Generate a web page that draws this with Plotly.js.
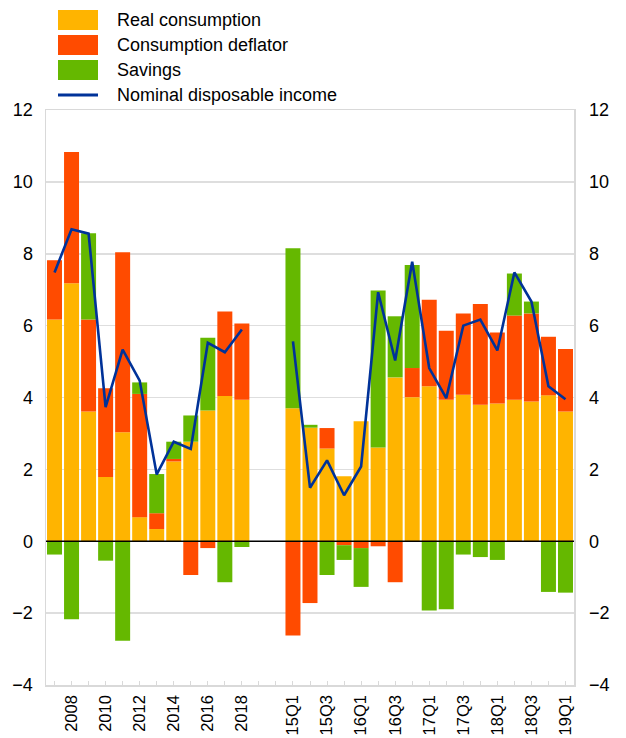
<!DOCTYPE html>
<html>
<head>
<meta charset="utf-8">
<script src="https://cdn.plot.ly/plotly-3.0.1.min.js"></script>
<style>html,body{margin:0;padding:0;background:#fff;}#chart{width:626px;height:738px;}</style>
</head>
<body>
<div id="chart"></div>
<script>
// ---- data ----
var annualLabels = ['2007','2008','2009','2010','2011','2012','2013','2014','2015','2016','2017','2018'];
var gapLabels = ['', ''];
var quarterLabels = ['15Q1','15Q2','15Q3','15Q4','16Q1','16Q2','16Q3','16Q4','17Q1','17Q2','17Q3','17Q4','18Q1','18Q2','18Q3','18Q4','19Q1'];

var realConsumptionAnnual = [6.17, 7.18, 3.61, 1.79, 3.03, 0.67, 0.34, 2.22, 2.77, 3.64, 4.04, 3.94];
var realConsumptionQuarter = [3.70, 3.16, 2.58, 1.81, 3.34, 2.61, 4.56, 4.01, 4.31, 3.94, 4.08, 3.80, 3.83, 3.94, 3.89, 4.06, 3.61];

var deflatorAnnual = [1.65, 3.65, 2.56, 2.47, 5.01, 3.43, 0.44, 0.07, -0.94, -0.19, 2.35, 2.12];
var deflatorQuarter = [-2.62, -1.72, 0.57, -0.11, -0.19, -0.14, -1.14, 0.81, 2.41, 1.92, 2.26, 2.80, 1.98, 2.34, 2.45, 1.63, 1.74];

var savingsAnnual = [-0.37, -2.17, 2.40, -0.54, -2.77, 0.32, 1.09, 0.48, 0.73, 2.02, -1.14, -0.16];
var savingsQuarter = [4.45, 0.08, -0.94, -0.41, -1.08, 4.37, 1.70, 2.87, -1.93, -1.89, -0.37, -0.44, -0.52, 1.17, 0.33, -1.41, -1.43];

var incomeAnnual = [7.48, 8.68, 8.56, 3.73, 5.33, 4.47, 1.86, 2.77, 2.57, 5.52, 5.26, 5.89];
var incomeQuarter = [5.56, 1.49, 2.25, 1.28, 2.08, 6.93, 5.03, 7.78, 4.82, 3.98, 6.00, 6.17, 5.31, 7.48, 6.67, 4.31, 3.95];

var seriesNames = ['Real consumption', 'Consumption deflator', 'Savings', 'Nominal disposable income'];
var yTickVals = [-4, -2, 0, 2, 4, 6, 8, 10, 12];

// ---- build ----
var labels = annualLabels.concat(gapLabels, quarterLabels);
var xIdx = labels.map(function (_, i) { return i; });
function withGap(a, q) {
  return a.concat(gapLabels.map(function () { return null; }), q);
}
var real = withGap(realConsumptionAnnual, realConsumptionQuarter);
var defl = withGap(deflatorAnnual, deflatorQuarter);
var sav = withGap(savingsAnnual, savingsQuarter);
var inc = withGap(incomeAnnual, incomeQuarter);

// every second label shown
var tickText = labels.map(function (l, i) {
  if (i < annualLabels.length) return (i % 2 === 1) ? l : '';
  var qi = i - annualLabels.length - gapLabels.length;
  if (qi < 0) return '';
  return (qi % 2 === 0) ? l : '';
});

var colors = ['#FFB400', '#FF4B00', '#65B800', '#003299'];
var FONT = '"Liberation Sans", Arial, sans-serif';

function barTrace(y, k) {
  return {
    type: 'bar', x: xIdx, y: y, name: seriesNames[k],
    marker: { color: colors[k], line: { width: 0 } },
    showlegend: false, hoverinfo: 'y+name'
  };
}

var traces = [
  barTrace(real, 0),
  barTrace(defl, 1),
  barTrace(sav, 2),
  {
    type: 'scatter', mode: 'lines', x: xIdx, y: inc, name: seriesNames[3],
    yaxis: 'y2', connectgaps: false,
    line: { color: colors[3], width: 2.6 }, showlegend: false
  }
];

// legend drawn by hand: pixel -> paper helpers
var W = 626, H = 738, mL = 46, mR = 52, mT = 110, mB = 53;
var pw = W - mL - mR, ph = H - mT - mB;
function px(x) { return (x - mL) / pw; }
function py(y) { return (H - mB - y) / ph; }

var shapes = [];
var annotations = [];
var rowCenters = [20, 45, 70, 95];
for (var k = 0; k < 4; k++) {
  if (k < 3) {
    shapes.push({ type: 'rect', xref: 'paper', yref: 'paper',
      x0: px(58), x1: px(98), y0: py(rowCenters[k] - 10), y1: py(rowCenters[k] + 10),
      fillcolor: colors[k], line: { width: 0 } });
  } else {
    shapes.push({ type: 'line', xref: 'paper', yref: 'paper',
      x0: px(58), x1: px(98), y0: py(rowCenters[k]), y1: py(rowCenters[k]),
      line: { color: colors[k], width: 3 } });
  }
  annotations.push({ xref: 'paper', yref: 'paper', x: px(115), y: py(rowCenters[k]),
    xanchor: 'left', yanchor: 'middle', showarrow: false, text: seriesNames[k],
    font: { family: FONT, size: 18, color: '#000' } });
}
// zero line above bars
shapes.push({ type: 'line', xref: 'paper', yref: 'y', x0: 0, x1: 1, y0: 0, y1: 0,
  line: { color: '#000', width: 1.5 }, layer: 'above' });

var layout = {
  width: W, height: H,
  margin: { l: mL, r: mR, t: mT, b: mB, pad: 0 },
  paper_bgcolor: '#fff', plot_bgcolor: '#fff',
  barmode: 'relative', bargap: 0.12,
  showlegend: false,
  font: { family: FONT, size: 18, color: '#000' },
  xaxis: {
    range: [-0.5, labels.length - 0.5],
    tickmode: 'array', tickvals: xIdx, ticktext: tickText,
    tickangle: -90, ticks: 'inside', ticklen: 4, tickcolor: '#d9d9d9', tickwidth: 1,
    showgrid: false, zeroline: false,
    showline: true, linecolor: '#d9d9d9', linewidth: 1.5, mirror: true,
    tickfont: { family: FONT, size: 16.5, color: '#000' },
    ticklabelstandoff: 2, fixedrange: true
  },
  yaxis: {
    range: [-4, 12], tickmode: 'array', tickvals: yTickVals,
    showgrid: true, gridcolor: '#dedede', gridwidth: 1.5,
    zeroline: false, showline: true, linecolor: '#d9d9d9', linewidth: 1.5, mirror: true,
    ticks: '', tickfont: { family: FONT, size: 18, color: '#000' },
    ticklabelstandoff: 8, fixedrange: true
  },
  yaxis2: {
    range: [-4, 12], tickmode: 'array', tickvals: yTickVals,
    overlaying: 'y', side: 'right', showgrid: false, zeroline: false, showline: false,
    ticks: '', tickfont: { family: FONT, size: 18, color: '#000' },
    ticklabelstandoff: 14, fixedrange: true
  },
  shapes: shapes,
  annotations: annotations
};

Plotly.newPlot('chart', traces, layout, { displayModeBar: false, staticPlot: true });
</script>
</body>
</html>
